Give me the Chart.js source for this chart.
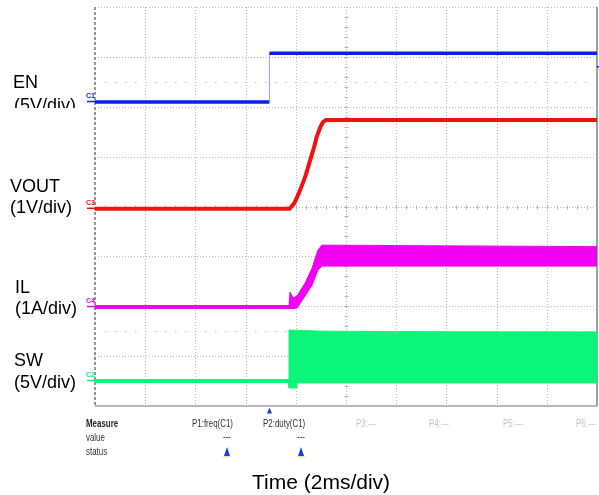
<!DOCTYPE html>
<html><head><meta charset="utf-8">
<script src="https://cdn.jsdelivr.net/npm/chart.js@4.4.0/dist/chart.umd.min.js"></script>
<style>html,body{margin:0;padding:0;background:#fff;}canvas{display:block;}</style>
</head><body>
<canvas id="c" width="599" height="495"></canvas>
<script>
// ---- data (time in ms, values in physical units) ----
const msPerDiv = 2;
const timeDivs = 10;
const vertDivs = 8;

const enTime  = [0, 6.95, 6.95, 20];
const enVolts = [0, 0, 4.9, 4.9];

const voutTime  = [0, 7.75, 7.95, 8.17, 8.40, 8.57, 8.72, 8.83, 8.97, 9.08, 9.20, 20];
const voutVolts = [0, 0, 0.12, 0.37, 0.68, 0.97, 1.22, 1.44, 1.63, 1.74, 1.78, 1.78];

const ilTime  = [0, 7.73, 7.77, 7.89, 8.05, 8.37, 8.65, 8.88, 9.04, 20];
const ilUpper = [0.03, 0.03, 0.30, 0.18, 0.22, 0.48, 0.78, 1.14, 1.24, 1.21];
const ilLower = [-0.03, -0.03, -0.03, -0.03, -0.02, 0.22, 0.44, 0.74, 0.82, 0.82];

const swTime  = [0, 7.73, 7.73, 8.05, 8.05, 9.0, 12.0, 20];
const swUpper = [0.15, 0.15, 5.11, 5.08, 5.08, 5.0, 4.95, 4.92];
const swLower = [-0.15, -0.15, -0.70, -0.70, -0.20, -0.20, -0.20, -0.20];

const channelNames = ["EN", "VOUT", "IL", "SW"];
const channelScales = ["(5V/div)", "(1V/div)", "(1A/div)", "(5V/div)"];
const channelTags = ["C1", "C3", "C4", "C2"];
const measureRows = ["Measure", "value", "status"];
const measureNames = ["P1:freq(C1)", "P2:duty(C1)", "P3:---", "P4:---", "P5:---", "P6:---"];
const xTitle = "Time (2ms/div)";

// ---- channel display settings (units per div, ground position in divs) ----
const chan = {
  EN:   {perDiv: 5, offset: 6.095, color: '#0a1ef2'},
  VOUT: {perDiv: 1, offset: 3.954, color: '#f21010'},
  IL:   {perDiv: 1, offset: 1.985, color: '#f000f0'},
  SW:   {perDiv: 5, offset: 0.501, color: '#0af57a'}
};
function pts(ts, vs, c) { return ts.map((t, i) => ({x: t, y: c.offset + vs[i] / c.perDiv})); }

const gridPlugin = {
  id: 'scopeGrid',
  beforeDatasetsDraw(chart) {
    const {ctx, scales: {x, y}} = chart;
    const L = x.getPixelForValue(0), R = x.getPixelForValue(timeDivs * msPerDiv);
    const T = y.getPixelForValue(vertDivs), B = y.getPixelForValue(0);
    ctx.save();
    ctx.strokeStyle = '#b8b8b8';
    ctx.lineWidth = 1;
    ctx.setLineDash([1, 2]);
    for (let i = 1; i < timeDivs; i++) {
      const px = Math.round(x.getPixelForValue(i * msPerDiv)) + 0.5;
      ctx.beginPath(); ctx.moveTo(px, T); ctx.lineTo(px, B); ctx.stroke();
    }
    for (let j = 1; j <= vertDivs; j++) {
      const py = Math.round(y.getPixelForValue(j)) + 0.5;
      ctx.beginPath(); ctx.moveTo(L, py); ctx.lineTo(R, py); ctx.stroke();
    }
    // trigger-level style dotted lines
    ctx.strokeStyle = '#bdbdbd';
    ctx.setLineDash([1.5, 8.5]);
    [6.5, 1.5].forEach(v => {
      const py = Math.round(y.getPixelForValue(v)) + 0.5;
      ctx.beginPath(); ctx.moveTo(L + 10, py); ctx.lineTo(R - 8, py); ctx.stroke();
    });
    ctx.setLineDash([]);
    // center-axis minor ticks
    ctx.strokeStyle = '#b4b4b4';
    const cx = Math.round(x.getPixelForValue(timeDivs * msPerDiv / 2)) + 0.5;
    const cy = Math.round(y.getPixelForValue(vertDivs / 2)) + 0.5;
    for (let k = 1; k < vertDivs * 5; k++) {
      const py = Math.round(y.getPixelForValue(k / 5)) + 0.5;
      ctx.beginPath(); ctx.moveTo(cx - 2, py); ctx.lineTo(cx + 2, py); ctx.stroke();
    }
    for (let k = 1; k < timeDivs * 5; k++) {
      const px = Math.round(x.getPixelForValue(k * msPerDiv / 5)) + 0.5;
      ctx.beginPath(); ctx.moveTo(px, cy - 2); ctx.lineTo(px, cy + 2); ctx.stroke();
    }
    // frame
    ctx.strokeStyle = '#a0a0a0';
    ctx.lineWidth = 1.5;
    ctx.beginPath(); ctx.moveTo(L, B); ctx.lineTo(R, B); ctx.stroke();
    ctx.lineWidth = 2;
    ctx.beginPath(); ctx.moveTo(R, T); ctx.lineTo(R, B); ctx.stroke();
    ctx.setLineDash([3, 2]);
    ctx.strokeStyle = '#959595';
    ctx.beginPath(); ctx.moveTo(L, T); ctx.lineTo(L, B); ctx.stroke();
    ctx.restore();
  },
  afterDraw(chart) {
    const {ctx, scales: {x, y}} = chart;
    const L = x.getPixelForValue(0), R = x.getPixelForValue(timeDivs * msPerDiv);
    const B = y.getPixelForValue(0);
    ctx.save();
    // channel labels
    ctx.fillStyle = '#000';
    ctx.font = '18px "Liberation Sans", Arial, sans-serif';
    ctx.textBaseline = 'alphabetic';
    const nameY = [88, 192, 293, 366];
    const scaleY = [111, 213, 314, 388];
    const nameX = [13, 10, 15, 14];
    const scaleX = [14, 10, 15, 14];
    channelNames.forEach((n, i) => {
      ctx.fillText(n, nameX[i], nameY[i]);
      ctx.save();
      if (i === 0) { ctx.beginPath(); ctx.rect(0, 0, L - 2, 108); ctx.clip(); }
      ctx.fillText(channelScales[i], scaleX[i], scaleY[i]);
      ctx.restore();
    });
    // channel tags at ground levels
    ctx.font = 'bold 7px "Liberation Sans", Arial, sans-serif';
    channelNames.forEach((n, i) => {
      const c = chan[n];
      const py = y.getPixelForValue(c.offset);
      ctx.fillStyle = c.color;
      ctx.fillText(channelTags[i], L - 9, py - 4);
      ctx.strokeStyle = c.color; ctx.lineWidth = 1.5;
      ctx.beginPath(); ctx.moveTo(L - 8, py - 0.5); ctx.lineTo(L, py - 0.5); ctx.stroke();
    });
    // right trigger level mark
    ctx.strokeStyle = '#0a1ef2'; ctx.lineWidth = 1.5;
    const ty = y.getPixelForValue(6.8);
    ctx.beginPath(); ctx.moveTo(R, ty); ctx.lineTo(R + 2, ty); ctx.stroke();
    // trigger position triangle
    const tri = (cx, top, w, h, col) => {
      ctx.fillStyle = col;
      ctx.beginPath(); ctx.moveTo(cx, top); ctx.lineTo(cx + w / 2, top + h); ctx.lineTo(cx - w / 2, top + h); ctx.closePath(); ctx.fill();
    };
    tri(x.getPixelForValue(6.95), B + 1.5, 5, 6, '#1a3cf0');
    // measure table
    const cond = (txt, px, py, font, col) => {
      ctx.save(); ctx.translate(px, py); ctx.scale(0.72, 1);
      ctx.font = font; ctx.fillStyle = col; ctx.fillText(txt, 0, 0); ctx.restore();
    };
    const f = '11px "Liberation Sans", Arial, sans-serif';
    cond(measureRows[0], 86, 427, 'bold ' + f, '#222');
    cond(measureRows[1], 86, 441, f, '#333');
    cond(measureRows[2], 86, 455, f, '#333');
    const mx = [192, 263, 356, 429, 503, 576];
    measureNames.forEach((m, i) => cond(m, mx[i], 427, f, i < 2 ? '#333' : '#c4c4c4'));
    [227, 301].forEach(cx => {
      cond('---', cx - 4, 440, f, '#333');
      ctx.fillStyle = '#f3e9a0'; ctx.fillRect(cx - 4, 456, 8, 1.5);
      tri(cx, 447, 6, 9, '#1a3cf0');
    });
    // x title
    ctx.fillStyle = '#000';
    ctx.font = '21px "Liberation Sans", Arial, sans-serif';
    ctx.fillText(xTitle, 252, 489);
    ctx.restore();
  }
};

const thinVertical = (col) => ({
  borderWidth: c => c.p0.parsed.x === c.p1.parsed.x ? 1 : undefined,
  borderColor: c => c.p0.parsed.x === c.p1.parsed.x ? col : undefined
});

new Chart(document.getElementById('c'), {
  type: 'line',
  data: {
    datasets: [
      {label: 'SW low', data: pts(swTime, swLower, chan.SW), borderColor: chan.SW.color, borderWidth: 1, fill: false, order: 4},
      {label: 'SW high', data: pts(swTime, swUpper, chan.SW), borderColor: chan.SW.color, borderWidth: 1, backgroundColor: chan.SW.color, fill: '-1', order: 4},
      {label: 'IL low', data: pts(ilTime, ilLower, chan.IL), borderColor: chan.IL.color, borderWidth: 1, fill: false, order: 3},
      {label: 'IL high', data: pts(ilTime, ilUpper, chan.IL), borderColor: chan.IL.color, borderWidth: 1, backgroundColor: chan.IL.color, fill: '-1', order: 3},
      {label: 'VOUT', data: pts(voutTime, voutVolts, chan.VOUT), borderColor: chan.VOUT.color, borderWidth: 4, fill: false, order: 2},
      {label: 'EN', data: pts(enTime, enVolts, chan.EN), borderColor: chan.EN.color, borderWidth: 3.5, fill: false, order: 1,
       segment: thinVertical('rgba(90,100,240,0.6)')}
    ]
  },
  options: {
    responsive: false,
    animation: false,
    parsing: false,
    elements: {point: {radius: 0}, line: {tension: 0, borderCapStyle: 'butt', borderJoinStyle: 'miter'}},
    layout: {padding: {left: 95, right: 2, top: 7, bottom: 89}},
    plugins: {legend: {display: false}, tooltip: {enabled: false}},
    scales: {
      x: {type: 'linear', min: 0, max: timeDivs * msPerDiv, display: false},
      y: {type: 'linear', min: 0, max: vertDivs, display: false}
    }
  },
  plugins: [gridPlugin]
});
</script>
</body></html>
